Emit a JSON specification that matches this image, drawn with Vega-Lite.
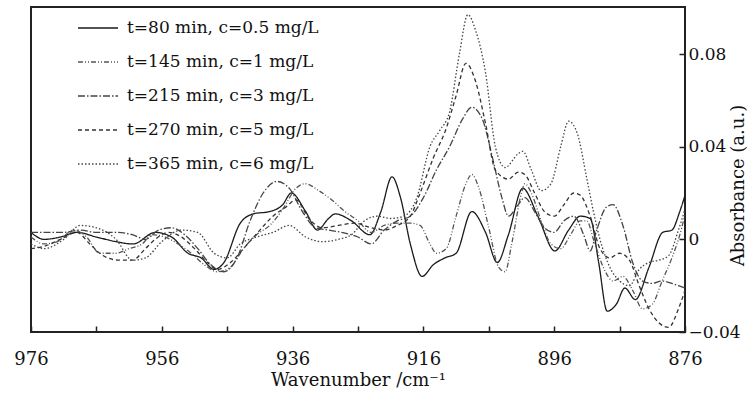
{
  "$schema": "https://vega.github.io/schema/vega-lite/v6.json",
  "width": 654,
  "height": 325,
  "autosize": {"type": "none"},
  "padding": {"left": 31, "top": 7, "right": 64, "bottom": 63},
  "background": "#ffffff",
  "config": {
    "view": {"stroke": "#222222", "strokeWidth": 2},
    "font": "DejaVu Serif"
  },
  "data": {
    "values": [
      {"s":"A","w":976,"a":0.003},{"s":"A","w":974,"a":0.0},{"s":"A","w":971.5,"a":0.001},{"s":"A","w":969,"a":0.003},{"s":"A","w":966,"a":0.001},{"s":"A","w":963,"a":-0.001},{"s":"A","w":960.4,"a":-0.002},{"s":"A","w":957,"a":0.003},{"s":"A","w":954.5,"a":0.001},{"s":"A","w":952,"a":-0.006},{"s":"A","w":950,"a":-0.008},{"s":"A","w":948,"a":-0.013},{"s":"A","w":946.5,"a":-0.01},{"s":"A","w":944,"a":0.007},{"s":"A","w":942,"a":0.011},{"s":"A","w":939.5,"a":0.012},{"s":"A","w":937.5,"a":0.015},{"s":"A","w":936.2,"a":0.02},{"s":"A","w":934,"a":0.012},{"s":"A","w":932.2,"a":0.004},{"s":"A","w":930.5,"a":0.009},{"s":"A","w":929.5,"a":0.011},{"s":"A","w":927,"a":0.008},{"s":"A","w":924.2,"a":0.002},{"s":"A","w":922.5,"a":0.012},{"s":"A","w":920.8,"a":0.027},{"s":"A","w":919.5,"a":0.018},{"s":"A","w":918,"a":-0.002},{"s":"A","w":916.2,"a":-0.016},{"s":"A","w":914.5,"a":-0.011},{"s":"A","w":912.7,"a":-0.008},{"s":"A","w":911,"a":-0.006},{"s":"A","w":908.6,"a":0.012},{"s":"A","w":906.5,"a":0.003},{"s":"A","w":904.7,"a":-0.01},{"s":"A","w":903,"a":0.002},{"s":"A","w":900.8,"a":0.022},{"s":"A","w":898.5,"a":0.01},{"s":"A","w":895.9,"a":-0.005},{"s":"A","w":893.8,"a":0.004},{"s":"A","w":892,"a":0.01},{"s":"A","w":890.5,"a":0.009},{"s":"A","w":889.2,"a":-0.01},{"s":"A","w":887.9,"a":-0.031},{"s":"A","w":886.5,"a":-0.028},{"s":"A","w":885.2,"a":-0.021},{"s":"A","w":883.6,"a":-0.026},{"s":"A","w":881.5,"a":-0.012},{"s":"A","w":879.4,"a":0.003},{"s":"A","w":878,"a":0.004},{"s":"A","w":876.8,"a":0.012},{"s":"A","w":876,"a":0.019},

      {"s":"B","w":976,"a":0.001},{"s":"B","w":974,"a":-0.002},{"s":"B","w":972,"a":-0.001},{"s":"B","w":969.5,"a":0.004},{"s":"B","w":967.5,"a":0.001},{"s":"B","w":965.5,"a":-0.006},{"s":"B","w":963,"a":-0.006},{"s":"B","w":961,"a":-0.004},{"s":"B","w":959,"a":-0.002},{"s":"B","w":957.5,"a":0.002},{"s":"B","w":955.5,"a":0.001},{"s":"B","w":953.5,"a":-0.002},{"s":"B","w":951.5,"a":-0.006},{"s":"B","w":949.5,"a":-0.011},{"s":"B","w":947.5,"a":-0.014},{"s":"B","w":945.5,"a":-0.012},{"s":"B","w":943.5,"a":-0.004},{"s":"B","w":941.5,"a":0.002},{"s":"B","w":939.5,"a":0.006},{"s":"B","w":937.5,"a":0.013},{"s":"B","w":935.5,"a":0.022},{"s":"B","w":934,"a":0.024},{"s":"B","w":932,"a":0.021},{"s":"B","w":930,"a":0.017},{"s":"B","w":928,"a":0.012},{"s":"B","w":926,"a":0.008},{"s":"B","w":924,"a":0.003},{"s":"B","w":922,"a":0.006},{"s":"B","w":920,"a":0.007},{"s":"B","w":918,"a":0.007},{"s":"B","w":916.5,"a":0.006},{"s":"B","w":915,"a":-0.002},{"s":"B","w":914,"a":-0.006},{"s":"B","w":912.5,"a":-0.004},{"s":"B","w":911,"a":0.01},{"s":"B","w":909.5,"a":0.024},{"s":"B","w":908.6,"a":0.028},{"s":"B","w":907.5,"a":0.022},{"s":"B","w":906,"a":0.005},{"s":"B","w":904.5,"a":-0.012},{"s":"B","w":903.5,"a":-0.014},{"s":"B","w":902.5,"a":-0.002},{"s":"B","w":901,"a":0.02},{"s":"B","w":900.5,"a":0.024},{"s":"B","w":899.5,"a":0.02},{"s":"B","w":898,"a":0.008},{"s":"B","w":896.5,"a":-0.002},{"s":"B","w":895,"a":-0.004},{"s":"B","w":893.5,"a":0.002},{"s":"B","w":892,"a":0.008},{"s":"B","w":891,"a":0.008},{"s":"B","w":890,"a":0.0},{"s":"B","w":888.5,"a":-0.012},{"s":"B","w":887,"a":-0.018},{"s":"B","w":885.5,"a":-0.016},{"s":"B","w":884,"a":-0.022},{"s":"B","w":882.5,"a":-0.03},{"s":"B","w":881,"a":-0.028},{"s":"B","w":879.5,"a":-0.018},{"s":"B","w":878,"a":-0.008},{"s":"B","w":876.5,"a":0.005},{"s":"B","w":876,"a":0.011},

      {"s":"C","w":976,"a":0.003},{"s":"C","w":973.5,"a":0.003},{"s":"C","w":971,"a":0.003},{"s":"C","w":968.5,"a":0.004},{"s":"C","w":966,"a":0.003},{"s":"C","w":963,"a":0.003},{"s":"C","w":960.5,"a":0.002},{"s":"C","w":958.5,"a":0.0},{"s":"C","w":956.5,"a":0.004},{"s":"C","w":954.5,"a":0.005},{"s":"C","w":952.5,"a":0.002},{"s":"C","w":950.5,"a":-0.004},{"s":"C","w":948.5,"a":-0.011},{"s":"C","w":946.5,"a":-0.014},{"s":"C","w":944.5,"a":-0.008},{"s":"C","w":942.5,"a":0.008},{"s":"C","w":940.5,"a":0.02},{"s":"C","w":938.4,"a":0.025},{"s":"C","w":936.5,"a":0.022},{"s":"C","w":934.5,"a":0.012},{"s":"C","w":932.5,"a":0.005},{"s":"C","w":930.5,"a":0.004},{"s":"C","w":928.5,"a":0.003},{"s":"C","w":926,"a":0.001},{"s":"C","w":924,"a":-0.002},{"s":"C","w":922,"a":0.004},{"s":"C","w":920,"a":0.008},{"s":"C","w":918,"a":0.01},{"s":"C","w":916,"a":0.018},{"s":"C","w":914,"a":0.03},{"s":"C","w":912,"a":0.04},{"s":"C","w":910,"a":0.052},{"s":"C","w":908.6,"a":0.057},{"s":"C","w":907,"a":0.052},{"s":"C","w":905.5,"a":0.036},{"s":"C","w":904,"a":0.018},{"s":"C","w":903,"a":0.01},{"s":"C","w":901.5,"a":0.015},{"s":"C","w":900.5,"a":0.018},{"s":"C","w":899,"a":0.012},{"s":"C","w":897.5,"a":0.005},{"s":"C","w":896,"a":0.003},{"s":"C","w":894.5,"a":0.008},{"s":"C","w":893,"a":0.01},{"s":"C","w":891.5,"a":0.002},{"s":"C","w":890.5,"a":-0.005},{"s":"C","w":889.5,"a":0.004},{"s":"C","w":888,"a":0.014},{"s":"C","w":887,"a":0.015},{"s":"C","w":885.5,"a":0.006},{"s":"C","w":884,"a":-0.01},{"s":"C","w":882.5,"a":-0.018},{"s":"C","w":881,"a":-0.019},{"s":"C","w":879.5,"a":-0.018},{"s":"C","w":878,"a":-0.019},{"s":"C","w":877,"a":-0.02},{"s":"C","w":876,"a":-0.021},

      {"s":"D","w":976,"a":-0.004},{"s":"D","w":974,"a":-0.003},{"s":"D","w":971.5,"a":0.0},{"s":"D","w":969,"a":0.003},{"s":"D","w":967,"a":-0.002},{"s":"D","w":965,"a":-0.007},{"s":"D","w":962.5,"a":-0.009},{"s":"D","w":960.5,"a":-0.009},{"s":"D","w":958.5,"a":-0.004},{"s":"D","w":957,"a":0.0},{"s":"D","w":955,"a":0.003},{"s":"D","w":953,"a":0.001},{"s":"D","w":951,"a":-0.004},{"s":"D","w":949,"a":-0.01},{"s":"D","w":947.5,"a":-0.013},{"s":"D","w":945.5,"a":-0.01},{"s":"D","w":943.5,"a":-0.004},{"s":"D","w":941,"a":0.004},{"s":"D","w":939,"a":0.01},{"s":"D","w":937,"a":0.014},{"s":"D","w":935.5,"a":0.017},{"s":"D","w":933.5,"a":0.009},{"s":"D","w":931.5,"a":0.005},{"s":"D","w":929,"a":0.006},{"s":"D","w":926.5,"a":0.007},{"s":"D","w":924,"a":0.005},{"s":"D","w":922,"a":0.004},{"s":"D","w":920,"a":0.006},{"s":"D","w":918,"a":0.01},{"s":"D","w":916.5,"a":0.02},{"s":"D","w":914.5,"a":0.035},{"s":"D","w":912.5,"a":0.048},{"s":"D","w":911,"a":0.062},{"s":"D","w":909.5,"a":0.076},{"s":"D","w":908,"a":0.068},{"s":"D","w":906.5,"a":0.05},{"s":"D","w":905,"a":0.03},{"s":"D","w":903,"a":0.026},{"s":"D","w":901.5,"a":0.029},{"s":"D","w":900.5,"a":0.028},{"s":"D","w":899,"a":0.02},{"s":"D","w":897.5,"a":0.012},{"s":"D","w":896,"a":0.01},{"s":"D","w":894.5,"a":0.015},{"s":"D","w":893,"a":0.02},{"s":"D","w":892,"a":0.019},{"s":"D","w":890.5,"a":0.01},{"s":"D","w":889,"a":-0.004},{"s":"D","w":887.5,"a":-0.008},{"s":"D","w":886,"a":-0.006},{"s":"D","w":884.5,"a":-0.009},{"s":"D","w":883,"a":-0.02},{"s":"D","w":881.5,"a":-0.03},{"s":"D","w":880,"a":-0.036},{"s":"D","w":878.5,"a":-0.038},{"s":"D","w":877,"a":-0.03},{"s":"D","w":876,"a":-0.022},

      {"s":"E","w":976,"a":-0.002},{"s":"E","w":974,"a":-0.004},{"s":"E","w":971,"a":0.0},{"s":"E","w":968.5,"a":0.006},{"s":"E","w":966,"a":0.005},{"s":"E","w":963,"a":0.0},{"s":"E","w":960.5,"a":-0.009},{"s":"E","w":958.5,"a":-0.008},{"s":"E","w":956,"a":-0.001},{"s":"E","w":953,"a":0.004},{"s":"E","w":950.5,"a":0.003},{"s":"E","w":948,"a":-0.006},{"s":"E","w":946,"a":-0.008},{"s":"E","w":944,"a":-0.002},{"s":"E","w":941.5,"a":0.001},{"s":"E","w":939,"a":0.003},{"s":"E","w":936.5,"a":0.006},{"s":"E","w":934,"a":0.001},{"s":"E","w":931.5,"a":-0.001},{"s":"E","w":929,"a":0.0},{"s":"E","w":927,"a":0.002},{"s":"E","w":925,"a":0.008},{"s":"E","w":923,"a":0.01},{"s":"E","w":921,"a":0.009},{"s":"E","w":919,"a":0.01},{"s":"E","w":917,"a":0.018},{"s":"E","w":915,"a":0.04},{"s":"E","w":913.5,"a":0.047},{"s":"E","w":912,"a":0.055},{"s":"E","w":910.5,"a":0.08},{"s":"E","w":909.2,"a":0.097},{"s":"E","w":908,"a":0.09},{"s":"E","w":906.5,"a":0.072},{"s":"E","w":905,"a":0.04},{"s":"E","w":903.5,"a":0.031},{"s":"E","w":901.5,"a":0.037},{"s":"E","w":900.8,"a":0.038},{"s":"E","w":899.5,"a":0.03},{"s":"E","w":898,"a":0.021},{"s":"E","w":896.5,"a":0.024},{"s":"E","w":895,"a":0.04},{"s":"E","w":893.8,"a":0.051},{"s":"E","w":892.5,"a":0.046},{"s":"E","w":891,"a":0.026},{"s":"E","w":890,"a":0.012},{"s":"E","w":889,"a":0.0},{"s":"E","w":887.5,"a":-0.012},{"s":"E","w":886,"a":-0.018},{"s":"E","w":884.5,"a":-0.02},{"s":"E","w":883,"a":-0.013},{"s":"E","w":881.5,"a":-0.01},{"s":"E","w":880,"a":-0.009},{"s":"E","w":878.5,"a":-0.007},{"s":"E","w":877,"a":0.004},{"s":"E","w":876,"a":0.013}
    ]
  },
  "mark": {"type": "line", "interpolate": "monotone", "strokeWidth": 1.3, "clip": true},
  "encoding": {
    "x": {
      "field": "w", "type": "quantitative",
      "scale": {"domain": [876, 976], "reverse": true, "nice": false, "zero": false},
      "axis": {
        "orient": "bottom",
        "title": "Wavenumber /cm⁻¹",
        "values": [976, 966, 956, 946, 936, 926, 916, 906, 896, 886, 876],
        "labelExpr": "(976 - datum.value) % 20 == 0 ? datum.label : ''",
        "format": "d",
        "domain": false, "grid": false,
        "tickSize": -6, "tickColor": "#222", "tickWidth": 1.5,
        "labelPadding": 24, "labelFontSize": 18, "labelColor": "#111", "labelFont": "DejaVu Serif",
        "labelFlush": false, "labelOverlap": false,
        "titleFontSize": 18, "titleFont": "DejaVu Serif", "titleFontWeight": "normal", "titleColor": "#111",
        "titlePadding": 3
      }
    },
    "y": {
      "field": "a", "type": "quantitative",
      "scale": {"domain": [-0.04, 0.1003], "nice": false, "zero": false},
      "axis": {
        "orient": "right",
        "title": "Absorbance (a.u.)",
        "values": [-0.04, 0, 0.04, 0.08],
        "labelExpr": "datum.value == 0 ? '0' : replace(format(datum.value, '.2f'), '-', '−')",
        "domain": false, "grid": false,
        "tickSize": -6, "tickColor": "#222", "tickWidth": 1.5,
        "labelPadding": 9, "labelFontSize": 17, "labelColor": "#111", "labelFont": "DejaVu Serif",
        "labelFlush": false, "labelOverlap": false,
        "titleFontSize": 18, "titleFont": "DejaVu Serif", "titleFontWeight": "normal", "titleColor": "#111",
        "titleAngle": 270, "titleX": 53, "titleY": 178, "titleBaseline": "middle", "titleAlign": "center"
      }
    },
    "strokeDash": {
      "field": "s", "type": "nominal",
      "scale": {"domain": ["A", "B", "C", "D", "E"], "range": [[1, 0], [5, 2, 1, 2, 1, 2], [7, 2, 1.5, 2], [4, 3], [1.5, 2]]},
      "legend": {
        "orient": "none", "legendX": 46, "legendY": 0, "title": null, "padding": 0,
        "symbolType": "stroke", "symbolSize": 1600, "symbolStrokeWidth": 1.4,
        "labelFontSize": 17, "labelFont": "DejaVu Serif", "labelColor": "#111", "labelOffset": 8,
        "rowPadding": 5, "labelLimit": 400,
        "labelExpr": "datum.value == 'A' ? 't=80 min, c=0.5 mg/L' : datum.value == 'B' ? 't=145 min, c=1 mg/L' : datum.value == 'C' ? 't=215 min, c=3 mg/L' : datum.value == 'D' ? 't=270 min, c=5 mg/L' : 't=365 min, c=6 mg/L'"
      }
    },
    "color": {
      "field": "s", "type": "nominal",
      "scale": {"domain": ["A", "B", "C", "D", "E"], "range": ["#1a1a1a", "#555555", "#444444", "#333333", "#444444"]},
      "legend": {
        "orient": "none", "legendX": 46, "legendY": 0, "title": null, "padding": 0,
        "symbolType": "stroke", "symbolSize": 1600, "symbolStrokeWidth": 1.4,
        "labelFontSize": 17, "labelFont": "DejaVu Serif", "labelColor": "#111", "labelOffset": 8,
        "rowPadding": 5, "labelLimit": 400,
        "labelExpr": "datum.value == 'A' ? 't=80 min, c=0.5 mg/L' : datum.value == 'B' ? 't=145 min, c=1 mg/L' : datum.value == 'C' ? 't=215 min, c=3 mg/L' : datum.value == 'D' ? 't=270 min, c=5 mg/L' : 't=365 min, c=6 mg/L'"
      }
    }
  }
}
